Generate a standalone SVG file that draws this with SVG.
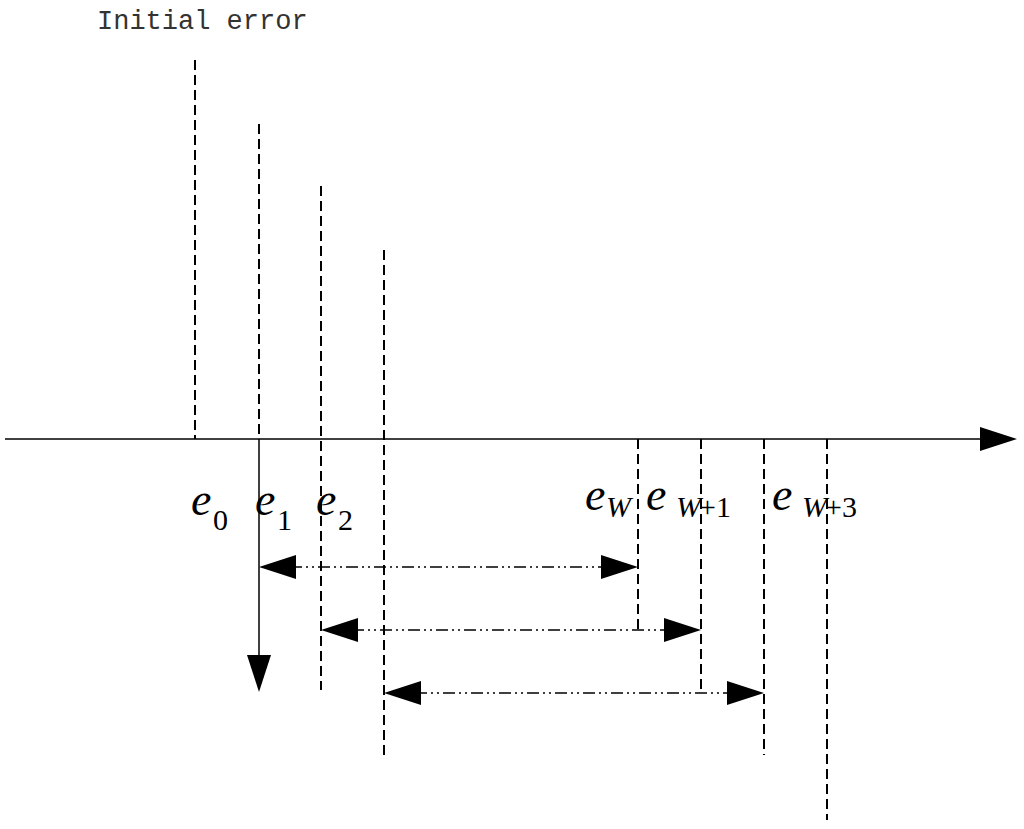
<svg xmlns="http://www.w3.org/2000/svg" width="1024" height="829" viewBox="0 0 1024 829">
<style>
.d{stroke:#000;stroke-width:2;stroke-dasharray:10,5;fill:none}
.dd{stroke:#000;stroke-width:1.5;stroke-dasharray:12,4,2,4,2,4;fill:none}
.s{stroke:#000;stroke-width:1.5;fill:none}
.e{font-family:"Liberation Serif",serif;font-style:italic;font-size:46px}
.sub{font-family:"Liberation Serif",serif;font-size:30px}
.subi{font-family:"Liberation Serif",serif;font-style:italic;font-size:30px}
</style>
<rect width="1024" height="829" fill="#fff"/>
<text x="97" y="29" font-family="Liberation Mono,monospace" font-size="27" fill="#333">Initial error</text>
<g id="connectors">
<line class="s" x1="5" y1="439" x2="982" y2="439"/>
<polygon points="980,427 1017,439 980,451"/>
<g id="lines">
<line class="d" x1="195" y1="60" x2="195" y2="439"/>
<line class="d" x1="259" y1="124" x2="259" y2="439"/>
<line class="s" x1="259" y1="439" x2="259" y2="660"/>
<polygon points="247,655 259,692 271,655"/>
<line class="d" x1="321" y1="186" x2="321" y2="690"/>
<line class="d" x1="384" y1="250" x2="384" y2="755"/>
<line class="d" x1="638" y1="439" x2="638" y2="630"/>
<line class="d" x1="701" y1="439" x2="701" y2="693"/>
<line class="d" x1="764" y1="439" x2="764" y2="755"/>
<line class="d" x1="827" y1="439" x2="827" y2="820"/>
</g>
<g id="arrows">
<line class="dd" x1="290" y1="567" x2="605" y2="567"/>
<polygon points="259,567 296,555 296,579"/><polygon points="638,567 601,555 601,579"/>
<line class="dd" x1="352" y1="630" x2="668" y2="630"/>
<polygon points="321,630 358,618 358,642"/><polygon points="701,630 664,618 664,642"/>
<line class="dd" x1="415" y1="693" x2="731" y2="693"/>
<polygon points="384,693 421,681 421,705"/><polygon points="764,693 727,681 727,705"/>
</g>
</g>
<g id="labels">
<text class="e" x="191" y="515">e</text><text class="sub" x="213" y="530">0</text>
<text class="e" x="255" y="515">e</text><text class="sub" x="277" y="530">1</text>
<text class="e" x="316" y="515">e</text><text class="sub" x="338" y="530">2</text>
<text class="e" x="585" y="510">e</text><text class="subi" x="606" y="517">W</text>
<text class="e" x="646" y="510">e</text><text class="subi" x="676" y="517">W</text><text class="sub" x="699" y="517">+1</text>
<text class="e" x="772" y="510">e</text><text class="subi" x="802" y="517">W</text><text class="sub" x="825" y="517">+3</text>
</g>
</svg>
